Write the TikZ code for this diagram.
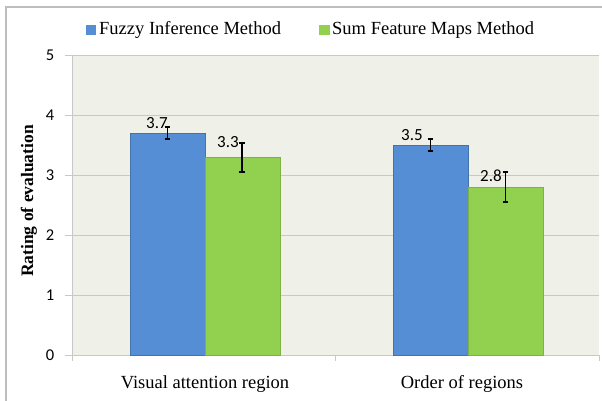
\documentclass[tikz,border=0pt]{standalone}
\usepackage{fontspec}
\setmainfont{Liberation Serif}
\newfontfamily\numfont{Carlito}
\definecolor{plotbg}{HTML}{EFF1E8}
\definecolor{gridc}{HTML}{C8C8C8}
\definecolor{framec}{HTML}{BEBEBE}
\definecolor{barblue}{HTML}{558ED5}
\definecolor{bargreen}{HTML}{92D050}
\begin{document}
\begin{tikzpicture}[x=1pt,y=-1pt,
  gridline/.style={draw=gridc,line width=0.9pt},
  ticklab/.style={font=\numfont\fontsize{16.5}{16.5}\selectfont,anchor=east,inner sep=0pt},
  datalab/.style={font=\numfont\fontsize{17}{17}\selectfont,inner sep=0pt},
  catlab/.style={font=\rmfamily\fontsize{18.5}{18.5}\selectfont,inner sep=0pt},
  leglab/.style={font=\rmfamily\fontsize{18.5}{18.5}\selectfont,anchor=west,inner sep=0pt},
  bluebar/.style={fill=barblue,draw=barblue!80!black,line width=0.4pt},
  greenbar/.style={fill=bargreen,draw=bargreen!85!black,line width=0.4pt},
  errbar/.style={draw=black,line width=1.1pt}]
\useasboundingbox (0,0) rectangle (602,401);
\fill[white] (0,0) rectangle (602,401);
% outer frame
\draw[framec,line width=1.6pt] (6,402) -- (6,7) -- (603,7);
% plot area
\fill[plotbg] (72,55) rectangle (599,355);
\foreach \v in {1,...,5}{
  \draw[gridline] (65,{355-60*\v}) -- (599,{355-60*\v});
}
\draw[gridline] (65,355) -- (599,355);
\draw[gridline] (72,55) -- (72,355);
\foreach \xx in {72,335.5,599}{
  \draw[gridline] (\xx,355) -- (\xx,361);
}
% tick labels
\foreach \v in {0,...,5}{
  \node[ticklab] (t\v) at (54.5,{355-60*\v}) {\v};
}
% bars
\path[bluebar]  (130,355) rectangle (205,133);
\path[greenbar] (205,355) rectangle (280,157);
\path[bluebar]  (393,355) rectangle (468,145);
\path[greenbar] (468,355) rectangle (543,187);
% error bars
\foreach \xx/\ya/\yb in {167.5/127/139, 242/143/172, 430.5/139/151, 505.5/172/202}{
  \draw[errbar] (\xx,\ya) -- (\xx,\yb);
  \draw[errbar] (\xx-2.8,\ya) -- (\xx+2.8,\ya);
  \draw[errbar] (\xx-2.8,\yb) -- (\xx+2.8,\yb);
}
% data labels
\node[datalab] (d1) at (157,123.5) {3.7};
\node[datalab] (d2) at (228,142.5) {3.3};
\node[datalab] (d3) at (412,135) {3.5};
\node[datalab] (d4) at (491,176) {2.8};
% category labels
\node[catlab] (c1) at (205,384) {Visual attention region};
\node[catlab] (c2) at (462,384) {Order of regions};
% axis title
\node[font=\rmfamily\bfseries\fontsize{17.5}{17.5}\selectfont,rotate=90,inner sep=0pt] (yt) at (29,201) {Rating of evaluation};
% legend
\fill[barblue] (85.5,25) rectangle (96,35.5);
\node[leglab] (l1) at (99,30) {Fuzzy Inference Method};
\fill[bargreen] (319,25) rectangle (329.5,35.5);
\node[leglab] (l2) at (332,30) {Sum Feature Maps Method};
\end{tikzpicture}
\end{document}
